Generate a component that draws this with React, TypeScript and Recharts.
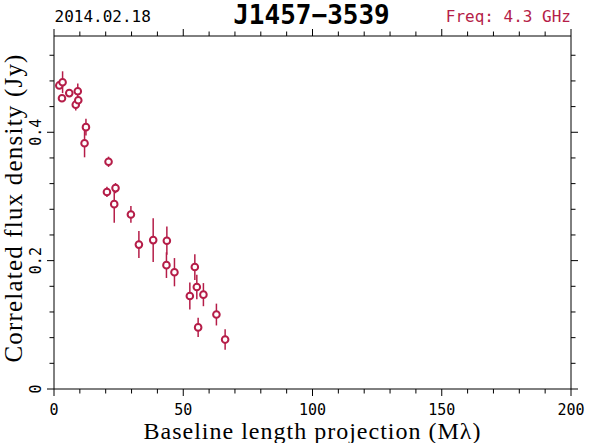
import React from "react";
import { ScatterChart, Scatter, XAxis, YAxis, ErrorBar } from "recharts";

const RED = "#b51d48";

// baseline length projection (Mλ), correlated flux density (Jy) and its error
const baseline = [2.05, 3.32, 3.09, 5.91, 9.2, 8.42, 9.39, 12.36, 11.82, 21.1, 20.48, 23.8, 23.3, 29.75, 32.84, 38.37, 43.66, 43.5, 46.6, 52.55, 54.48, 55.25, 57.8, 62.83, 55.76, 66.2];
const flux = [0.473, 0.478, 0.453, 0.461, 0.464, 0.443, 0.45, 0.408, 0.383, 0.354, 0.307, 0.313, 0.288, 0.272, 0.225, 0.232, 0.231, 0.193, 0.182, 0.145, 0.19, 0.159, 0.147, 0.116, 0.096, 0.077];
const fluxErr = [0.005, 0.017, 0.005, 0.005, 0.012, 0.009, 0.005, 0.013, 0.022, 0.008, 0.008, 0.008, 0.029, 0.013, 0.021, 0.034, 0.022, 0.02, 0.022, 0.021, 0.02, 0.019, 0.018, 0.017, 0.015, 0.016];

const xTicks = [0, 10, 20, 30, 40, 50, 60, 70, 80, 90, 100, 110, 120, 130, 140, 150, 160, 170, 180, 190, 200];
const xMajor = [0, 50, 100, 150, 200];
const yTicks = [0, 0.04, 0.08, 0.12, 0.16, 0.2, 0.24, 0.28, 0.32, 0.36, 0.4, 0.44, 0.48, 0.52];
const yMajor = [0, 0.2, 0.4];
const yLabels = ["0", "0.2", "0.4"];

const points = baseline.map((b, i) => ({ baseline: b, flux: flux[i], err: fluxErr[i] }));

const tickFont = "'DejaVu Sans Mono', 'Liberation Mono', monospace";
const labelFont = "'Liberation Serif', 'DejaVu Serif', serif";

const isMajorX = (v: number) => xMajor.includes(v);
const yMajorIndex = (v: number) => yMajor.findIndex((m) => Math.abs(m - v) < 1e-6);

function XTick(props: any) {
  const { x, y, payload, side } = props;
  const major = isMajorX(payload.value);
  const len = major ? 7 : 4.5;
  const dir = side === "top" ? -1 : 1;
  return (
    <g>
      <line x1={x} x2={x} y1={y} y2={y + dir * len} stroke="#000" strokeWidth={1} />
      {side === "bottom" && major && (
        <text x={x} y={y + 26} textAnchor="middle" fontFamily={tickFont} fontSize={15} fill="#000">
          {String(payload.value)}
        </text>
      )}
    </g>
  );
}

function YTick(props: any) {
  const { x, y, payload, side } = props;
  const mi = yMajorIndex(payload.value);
  const len = mi >= 0 ? 7 : 4.5;
  const dir = side === "left" ? -1 : 1;
  const tx = x - 13;
  return (
    <g>
      <line x1={x} x2={x + dir * len} y1={y} y2={y} stroke="#000" strokeWidth={1} />
      {side === "left" && mi >= 0 && (
        <text
          x={tx}
          y={y}
          transform={`rotate(-90 ${tx} ${y})`}
          textAnchor="middle"
          fontFamily={tickFont}
          fontSize={15}
          fill="#000"
        >
          {yLabels[mi]}
        </text>
      )}
    </g>
  );
}

function Marker(props: any) {
  const { cx, cy } = props;
  return <circle cx={cx} cy={cy} r={3.3} fill="#fff" stroke={RED} strokeWidth={2} />;
}

const NoMarker = () => <g />;

export default function App() {
  return (
    <div style={{ position: "relative", width: 590, height: 443, background: "#fff" }}>
      <style>{`body{margin:0}`}</style>
      <ScatterChart width={590} height={443} margin={{ top: 0, right: 0, bottom: 0, left: 0 }}>
        <XAxis
          xAxisId="b"
          type="number"
          dataKey="baseline"
          domain={[0, 200]}
          ticks={xTicks}
          interval={0}
          height={54}
          tickSize={0}
          tickMargin={0}
          tickLine={false}
          axisLine={{ stroke: "#000", strokeWidth: 1 }}
          tick={(p: any) => <XTick {...p} side="bottom" />}
        />
        <XAxis
          xAxisId="t"
          orientation="top"
          type="number"
          dataKey="baseline"
          domain={[0, 200]}
          ticks={xTicks}
          interval={0}
          height={36}
          tickSize={0}
          tickMargin={0}
          tickLine={false}
          axisLine={{ stroke: "#000", strokeWidth: 1 }}
          tick={(p: any) => <XTick {...p} side="top" />}
        />
        <YAxis
          yAxisId="l"
          type="number"
          dataKey="flux"
          domain={[0, 0.55]}
          ticks={yTicks}
          interval={0}
          width={54}
          tickSize={0}
          tickMargin={0}
          tickLine={false}
          axisLine={{ stroke: "#000", strokeWidth: 1 }}
          tick={(p: any) => <YTick {...p} side="left" />}
        />
        <YAxis
          yAxisId="r"
          orientation="right"
          type="number"
          dataKey="flux"
          domain={[0, 0.55]}
          ticks={yTicks}
          interval={0}
          width={19}
          tickSize={0}
          tickMargin={0}
          tickLine={false}
          axisLine={{ stroke: "#000", strokeWidth: 1 }}
          tick={(p: any) => <YTick {...p} side="right" />}
        />
        {/* invisible series so the mirrored top/right axes get drawn */}
        <Scatter
          xAxisId="t"
          yAxisId="r"
          data={points}
          dataKey="flux"
          shape={NoMarker}
          isAnimationActive={false}
        />
        <Scatter
          xAxisId="b"
          yAxisId="l"
          data={points}
          dataKey="flux"
          shape={Marker}
          isAnimationActive={false}
        >
          <ErrorBar dataKey="err" direction="y" width={0} stroke={RED} strokeWidth={1.5} isAnimationActive={false} />
        </Scatter>
      </ScatterChart>
      <svg
        width={590}
        height={443}
        style={{ position: "absolute", left: 0, top: 0, pointerEvents: "none" }}
      >
        <text x={54.5} y={21.5} fontFamily={tickFont} fontSize={16} fill="#000">
          2014.02.18
        </text>
        <text
          x={311.5}
          y={24}
          textAnchor="middle"
          fontFamily="'DejaVu Sans Mono', monospace"
          fontWeight="bold"
          fontSize={26}
          fill="#000"
        >
          J1457−3539
        </text>
        <text x={571} y={21.5} textAnchor="end" fontFamily={tickFont} fontSize={16} fill={RED}>
          Freq: 4.3 GHz
        </text>
        <text
          x={312.5}
          y={439}
          textAnchor="middle"
          fontFamily={labelFont}
          fontSize={24}
          letterSpacing={1}
          fill="#000"
        >
          Baseline length projection (Mλ)
        </text>
        <text
          x={22}
          y={208}
          transform="rotate(-90 22 208)"
          textAnchor="middle"
          fontFamily={labelFont}
          fontSize={25}
          letterSpacing={1.2}
          fill="#000"
        >
          Correlated flux density (Jy)
        </text>
      </svg>
    </div>
  );
}
